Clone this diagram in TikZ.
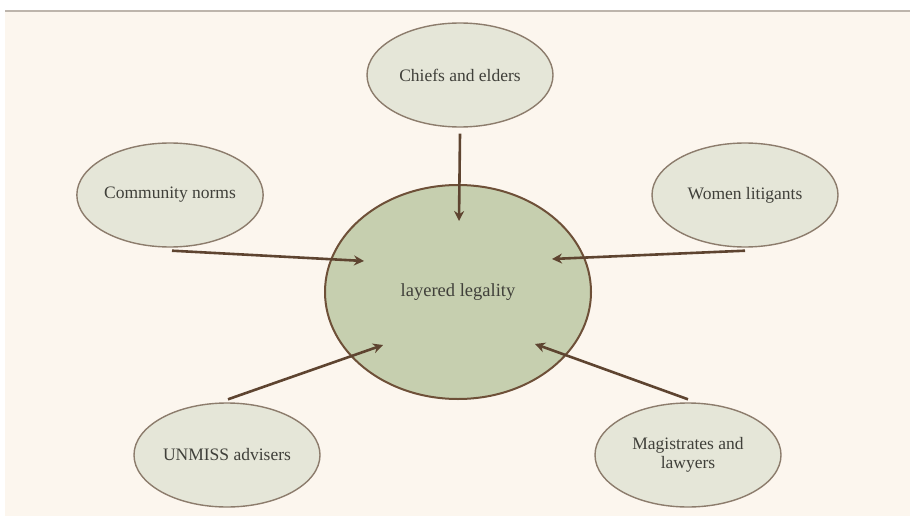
\documentclass[tikz,border=0pt]{standalone}
\usepackage{fontspec}
\setmainfont{Liberation Serif}
\usetikzlibrary{shapes.geometric,arrows.meta}
\definecolor{bgcream}{HTML}{FCF6EE}
\definecolor{topline}{HTML}{BDB5AC}
\definecolor{outerfill}{HTML}{E5E6D8}
\definecolor{outerdraw}{HTML}{8C7C6C}
\definecolor{centerfill}{HTML}{C6CFAF}
\definecolor{centerdraw}{HTML}{6E5038}
\definecolor{arrowcol}{HTML}{5E4430}
\definecolor{txt}{HTML}{40403A}
\tikzset{
  outer/.style={ellipse, draw=outerdraw, fill=outerfill, line width=1.4pt,
    minimum width=186pt, minimum height=104pt, inner sep=0pt,
    text=txt, font=\fontsize{17.5}{19}\selectfont, align=center},
  hub/.style={ellipse, draw=centerdraw, fill=centerfill, line width=2pt,
    minimum width=266pt, minimum height=214pt, inner sep=0pt,
    text=txt, font=\fontsize{18.5}{20}\selectfont},
  link/.style={draw=arrowcol, line width=2.6pt,
    -{Stealth[length=10pt,width=10pt]}}
}
\begin{document}
\begin{tikzpicture}[x=1pt,y=-1pt]
\useasboundingbox (0,0) rectangle (910,516);
\fill[white] (0,0) rectangle (910,516);
\fill[bgcream] (5,12) rectangle (910,516);
\draw[topline, line width=2pt] (5,11.5) -- (910,11.5);

\node[hub] (hub) at (458,292) {layered legality};
\node[outer] (chiefs) at (460,75) {Chiefs and elders};
\node[outer] (norms) at (170,195) {Community norms};
\node[outer] (women) at (745,195) {Women litigants};
\node[outer] (unmiss) at (227,455) {UNMISS advisers};
\node[outer] (mag) at (688,455) {Magistrates and\\lawyers};

\coordinate (chiefsS) at ([yshift=-6pt]chiefs.south);
\coordinate (normsS) at ([xshift=2pt,yshift=-3pt]norms.south);
\coordinate (womenS) at ([yshift=-3pt]women.south);
\coordinate (unmissN) at ([xshift=1pt,yshift=3pt]unmiss.north);
\coordinate (magN) at ([yshift=3pt]mag.north);

\coordinate (hubT) at (459,221);
\coordinate (hubL) at (364,261);
\coordinate (hubR) at (552,259);
\coordinate (hubBL) at (383,345);
\coordinate (hubBR) at (535,344);

\draw[link] (chiefsS) -- (hubT);
\draw[link] (normsS) -- (hubL);
\draw[link] (womenS) -- (hubR);
\draw[link] (unmissN) -- (hubBL);
\draw[link] (magN) -- (hubBR);
\end{tikzpicture}
\end{document}
